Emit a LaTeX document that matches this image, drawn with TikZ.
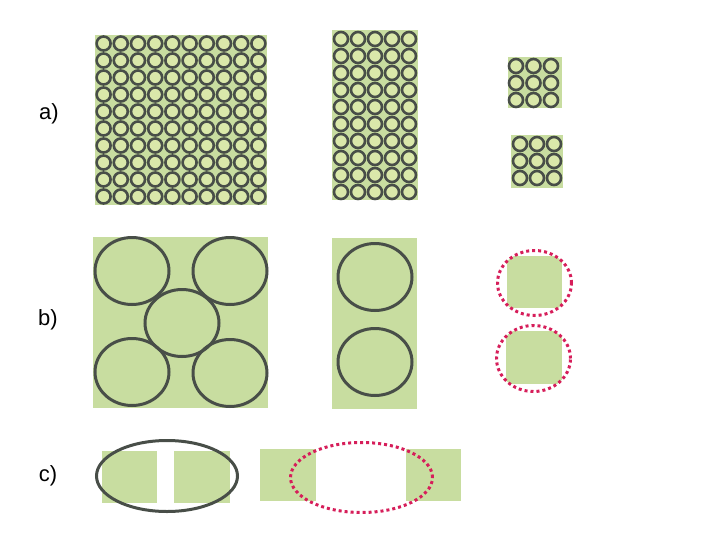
\documentclass[tikz,border=0pt]{standalone}
\usepackage{fontspec}
\setmainfont{Liberation Sans}
\usepackage{xcolor}
\usetikzlibrary{shapes.geometric}

\definecolor{cellgreen}{RGB}{200,221,160}
\definecolor{ringfill}{RGB}{218,232,170}
\definecolor{ringgray}{RGB}{72,78,72}
\definecolor{dotred}{RGB}{214,30,90}

\tikzset{
    cell/.style={rectangle, fill=cellgreen, inner sep=0pt},
    ring/.style={draw=ringgray, fill=ringfill, line width=2.6pt},
    bigring/.style={ellipse, draw=ringgray, line width=3pt, inner sep=0pt},
    dotring/.style={ellipse, draw=dotred, line width=3pt, inner sep=0pt,
                    dash pattern=on 3pt off 3pt},
    lbl/.style={font=\fontsize{22}{26}\selectfont}
}

\begin{document}
\begin{tikzpicture}[x=1pt,y=-1pt]

    \useasboundingbox (0,0) rectangle (717,557);

    %row labels
    \node[lbl] (labA) at (49,114) {a)};
    \node[lbl] (labB) at (48,320) {b)};
    \node[lbl] (labC) at (48,476) {c)};

    %row a: many small pores
    \node[cell, minimum width=172pt, minimum height=170pt] (aBig) at (181,120) {};
    \node[cell, minimum width=86pt, minimum height=170pt] (aMid) at (375,115) {};
    \node[cell, minimum width=54pt, minimum height=51pt] (aTop) at (534.5,82.5) {};
    \node[cell, minimum width=52pt, minimum height=53pt] (aLow) at (537,161.5) {};

    \begin{scope}
        \clip (aBig.south west) rectangle (aBig.north east);
        \foreach \i in {0,...,9}
            \foreach \j in {0,...,9}
                \draw[ring] (103.6+17.2*\i,43.5+17*\j) circle[radius=7pt];
    \end{scope}

    \begin{scope}
        \clip (aMid.south west) rectangle (aMid.north east);
        \foreach \i in {0,...,4}
            \foreach \j in {0,...,9}
                \draw[ring] (341+17*\i,39+17*\j) circle[radius=7pt];
    \end{scope}

    \begin{scope}
        \clip (aTop.south west) rectangle (aTop.north east);
        \foreach \i in {0,1,2}
            \foreach \j in {0,1,2}
                \draw[ring] (516+17.5*\i,66+17*\j) circle[radius=7pt];
    \end{scope}

    \begin{scope}
        \clip (aLow.south west) rectangle (aLow.north east);
        \foreach \i in {0,1,2}
            \foreach \j in {0,1,2}
                \draw[ring] (520+17*\i,144+17*\j) circle[radius=7pt];
    \end{scope}

    %row b: few large pores
    \node[cell, minimum width=175pt, minimum height=171pt] (bBig) at (180.5,322.5) {};
    \node[cell, minimum width=85pt, minimum height=171pt] (bMid) at (374.5,323.5) {};

    \node[bigring, minimum width=74pt, minimum height=67pt] (bTL) at (132,271) {};
    \node[bigring, minimum width=74pt, minimum height=67pt] (bTR) at (230,271) {};
    \node[bigring, minimum width=74pt, minimum height=67pt] (bC) at (182,323) {};
    \node[bigring, minimum width=74pt, minimum height=67pt] (bBL) at (132,372) {};
    \node[bigring, minimum width=74pt, minimum height=67pt] (bBR) at (230,373) {};

    \node[bigring, minimum width=74pt, minimum height=67pt] (bMT) at (375,277) {};
    \node[bigring, minimum width=74pt, minimum height=67pt] (bMB) at (375,362) {};

    \begin{scope}
        \clip (534.5,283) ellipse [x radius=37pt, y radius=32.5pt];
        \node[cell, minimum width=55pt, minimum height=52pt] (bTop) at (534.5,282) {};
    \end{scope}
    \begin{scope}
        \clip (533.5,358.5) ellipse [x radius=37pt, y radius=33pt];
        \node[cell, minimum width=56pt, minimum height=53pt] (bLow) at (534,357.5) {};
    \end{scope}
    \node[dotring, minimum width=74pt, minimum height=65pt] (bTopR) at (534.5,283) {};
    \node[dotring, minimum width=74pt, minimum height=66pt] (bLowR) at (533.5,358.5) {};

    %row c: pore between two cells
    \node[cell, minimum width=55pt, minimum height=52pt] (cA) at (129.5,477) {};
    \node[cell, minimum width=56pt, minimum height=52pt] (cB) at (202,477) {};
    \node[cell, minimum width=56pt, minimum height=52pt] (cC) at (288,475) {};
    \node[cell, minimum width=55pt, minimum height=52pt] (cD) at (433.5,475) {};

    \node[bigring, minimum width=141pt, minimum height=71pt] (cRing) at (167,476) {};
    \node[dotring, minimum width=142pt, minimum height=70pt] (cDots) at (361.5,477.5) {};

\end{tikzpicture}
\end{document}
